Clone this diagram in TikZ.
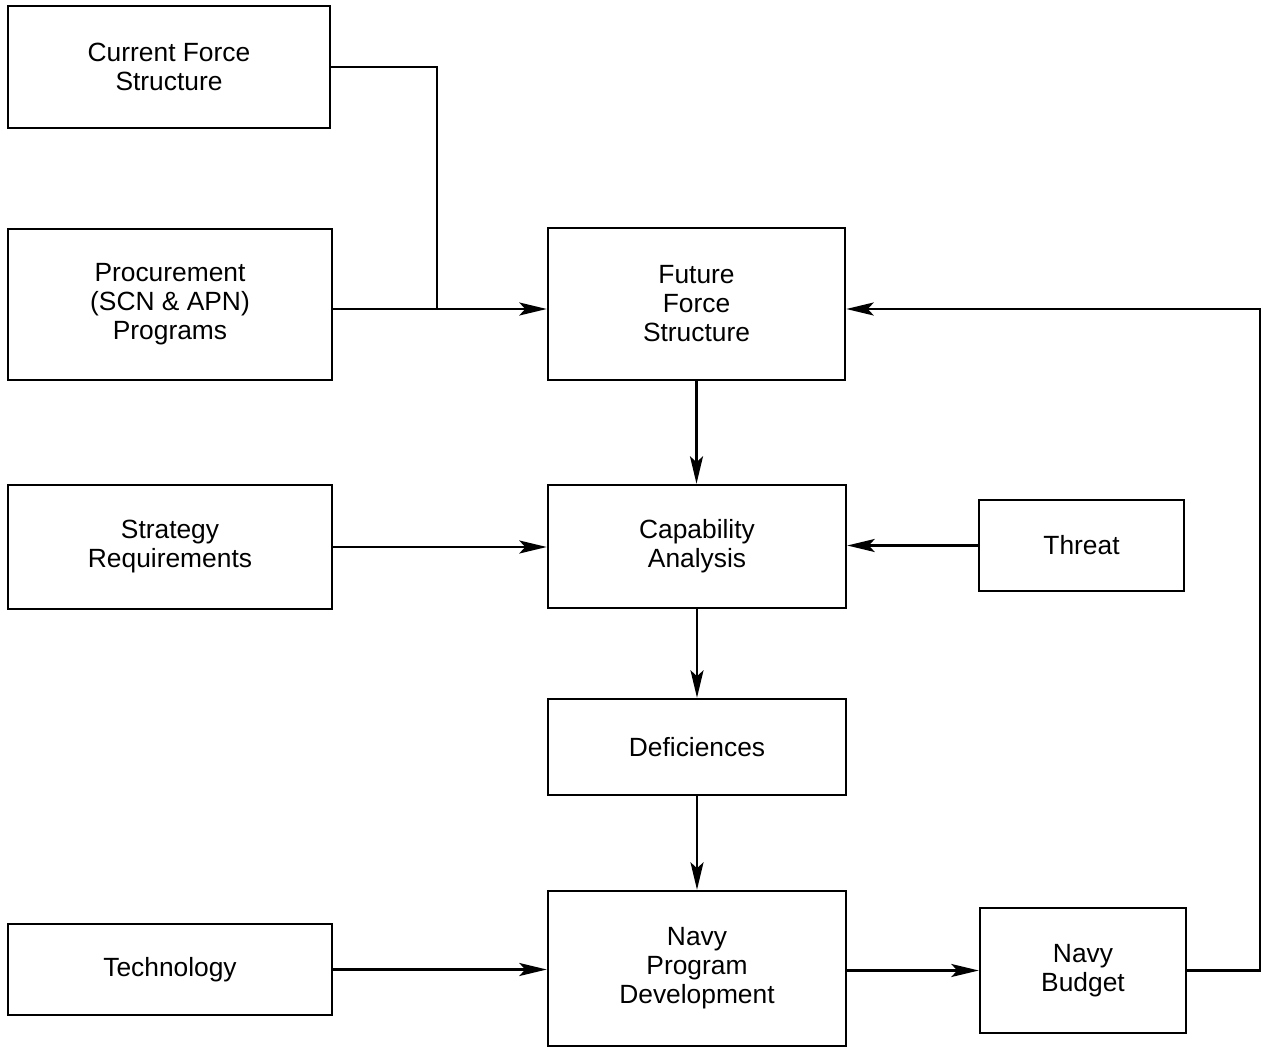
\documentclass[tikz,border=0pt]{standalone}
\usepackage{fontspec}
\setmainfont{Liberation Sans}
\usetikzlibrary{arrows.meta}
\begin{document}
\begin{tikzpicture}[
    box/.style={draw,line width=1.4pt,align=center,inner sep=0pt,
      font=\fontsize{15}{16.5}\selectfont},
    flow/.style={line width=1.4pt,-{Stealth[length=5.5mm,width=2.6mm,inset=1.2mm]}}]
  \useasboundingbox (0,0) rectangle (25.26,-20.96);
  \draw
    (3.38,-1.34) node[box,minimum width=6.44cm,minimum height=2.44cm] (cfs){Current Force\\Structure}
    (3.40,-6.09) node[box,minimum width=6.48cm,minimum height=3.02cm] (proc){Procurement\\(SCN \& APN)\\Programs}
    (13.93,-6.08) node[box,minimum width=5.94cm,minimum height=3.04cm] (ffs){Future\\Force\\Structure}
    (3.40,-10.94) node[box,minimum width=6.48cm,minimum height=2.48cm] (strat){Strategy\\Requirements}
    (13.94,-10.93) node[box,minimum width=5.96cm,minimum height=2.46cm] (cap){Capability\\Analysis}
    (21.63,-10.91) node[box,minimum width=4.10cm,minimum height=1.82cm] (threat){Threat}
    (13.94,-14.94) node[box,minimum width=5.96cm,minimum height=1.92cm] (def){Deficiences}
    (3.40,-19.39) node[box,minimum width=6.48cm,minimum height=1.82cm] (tech){Technology}
    (13.94,-19.37) node[box,minimum width=5.96cm,minimum height=3.10cm] (npd){Navy\\Program\\Development}
    (21.66,-19.41) node[box,minimum width=4.12cm,minimum height=2.50cm] (bud){Navy\\Budget};
  \coordinate (join) at (8.74,-6.18);
  \coordinate (loop) at (25.20,-19.41);
  \draw[line width=1.4pt] (cfs.east) -| (join);
  \begin{scope}[flow]
    \draw (proc.east |- join) -- (ffs.west |- join);
    \draw (ffs.south) -- (ffs.south |- cap.north);
    \draw (strat.east) -- (strat.east -| cap.west);
    \draw (threat.west) -- (threat.west -| cap.east);
    \draw (cap.south) -- (cap.south |- def.north);
    \draw (def.south) -- (def.south |- npd.north);
    \draw (tech.east) -- (tech.east -| npd.west);
    \draw (npd.east |- bud.west) -- (bud.west);
    \draw (bud.east) -- (loop) |- (ffs.east |- join);
  \end{scope}
\end{tikzpicture}
\end{document}
